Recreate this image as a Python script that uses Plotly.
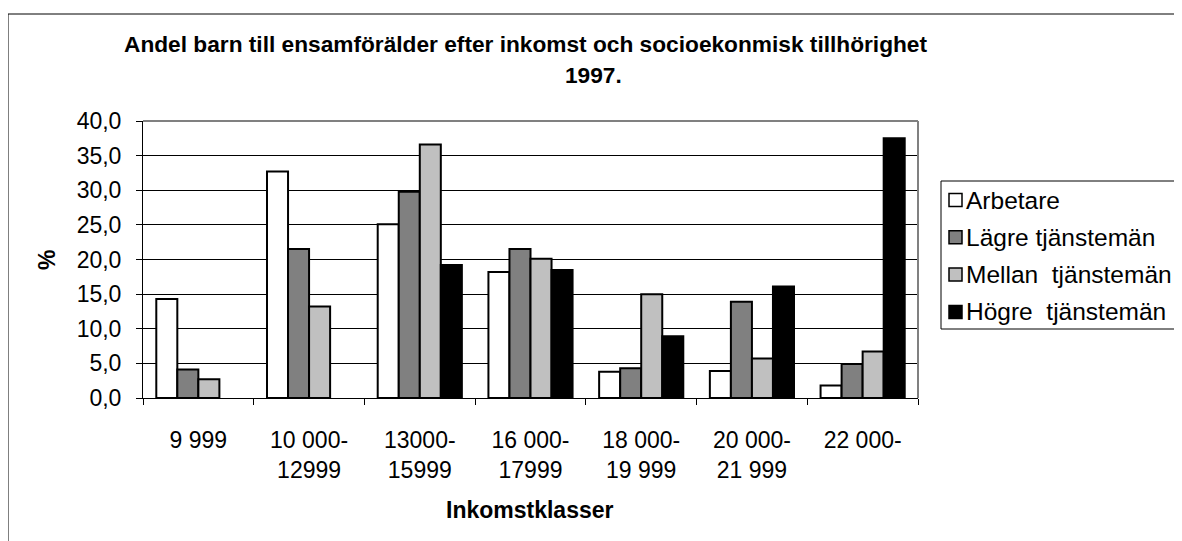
import plotly.graph_objects as go

categories = ["9 999", "10 000-<br>12999", "13000-<br>15999", "16 000-<br>17999",
              "18 000-<br>19 999", "20 000-<br>21 999", "22 000-"]
arbetare = [14.3, 32.7, 25.1, 18.2, 3.8, 3.9, 1.8]
lagre = [4.1, 21.5, 29.8, 21.5, 4.3, 13.9, 4.9]
mellan = [2.7, 13.2, 36.6, 20.1, 15.0, 5.7, 6.7]
hogre = [None, None, 19.2, 18.5, 8.9, 16.1, 37.5]
series_names = ["Arbetare", "Lägre tjänstemän", "Mellan \u00a0tjänstemän", "Högre \u00a0tjänstemän"]
series_values = [arbetare, lagre, mellan, hogre]
colors = ["#FFFFFF", "#808080", "#C0C0C0", "#000000"]
y_ticks = [0, 5, 10, 15, 20, 25, 30, 35, 40]

FONT = "Liberation Sans, Arial, sans-serif"
FS = 23
LEG_FS = 24.5
# page has an 8px body margin; screen-space plot area: x 143..918, y 121..398
OFF = 8
FW, FH = 1174, 533
SX0, SX1, SY0, SY1 = 143, 918, 121, 398
L, T = SX0 - OFF, SY0 - OFF
R, B = FW - (SX1 - OFF), FH - (SY1 - OFF)
pw, ph = SX1 - SX0, SY1 - SY0


def px(x):
    return (x - SX0) / pw


def py(y):
    return (SY1 - y) / ph


fig = go.Figure()
for i, (name, vals, col) in enumerate(zip(series_names, series_values, colors)):
    fig.add_trace(go.Bar(
        x=categories, y=vals, name=name, showlegend=False,
        marker=dict(color=col, line=dict(color="#000000", width=2)),
    ))

shapes = [
    dict(type="rect", xref="paper", yref="paper", x0=px(8), x1=px(1400),
         y0=py(800), y1=py(14), line=dict(color="black", width=1)),
    dict(type="line", xref="paper", yref="paper", x0=0, x1=1, y0=1, y1=1,
         line=dict(color="#808080", width=2)),
    dict(type="line", xref="paper", yref="paper", x0=1, x1=1, y0=0, y1=1,
         line=dict(color="#808080", width=2)),
    dict(type="rect", xref="paper", yref="paper", x0=px(941), x1=px(1400),
         y0=py(329), y1=py(181), line=dict(color="black", width=1)),
]
annotations = [
    dict(text="<b>Andel barn till ensamförälder efter inkomst och socioekonmisk tillhörighet</b>",
         xref="paper", yref="paper", x=px(525), y=py(44), xanchor="center",
         yanchor="middle", showarrow=False, font=dict(family=FONT, size=22.7)),
    dict(text="<b>1997.</b>", xref="paper", yref="paper", x=px(593), y=py(75),
         xanchor="center", yanchor="middle", showarrow=False,
         font=dict(family=FONT, size=22.7)),
    dict(text="<b>%</b>", xref="paper", yref="paper", x=px(47), y=py(260),
         xanchor="center", yanchor="middle", textangle=-90, showarrow=False,
         font=dict(family=FONT, size=FS)),
    dict(text="<b>Inkomstklasser</b>", xref="paper", yref="paper", x=px(530),
         y=py(510), xanchor="center", yanchor="middle", showarrow=False,
         font=dict(family=FONT, size=FS)),
]

# legend (drawn manually for exact placement)
row0, row_step = 200, 37.3
for i, (name, col) in enumerate(zip(series_names, colors)):
    cy = row0 + i * row_step
    shapes.append(dict(type="rect", xref="paper", yref="paper",
                       x0=px(949), x1=px(962), y0=py(cy + 6.5), y1=py(cy - 6.5),
                       fillcolor=col, line=dict(color="black", width=1.5)))
    annotations.append(dict(text=name, xref="paper", yref="paper", x=px(964),
                            y=py(cy), xanchor="left", yanchor="middle",
                            showarrow=False, font=dict(family=FONT, size=LEG_FS)))

fig.update_layout(
    width=FW, height=FH,
    margin=dict(l=L, r=R, t=T, b=B, pad=0),
    paper_bgcolor="white", plot_bgcolor="white",
    font=dict(family=FONT, size=FS, color="black"),
    separators=", ",
    barmode="group", bargap=0.24, bargroupgap=0,
    showlegend=False,
    xaxis=dict(type="category", tickson="boundaries", ticks="outside", ticklen=6,
               tickcolor="black", showline=True, linecolor="black", linewidth=1,
               showgrid=False, ticklabelstandoff=21,
               tickfont=dict(family=FONT, size=FS)),
    yaxis=dict(range=[0, 40], tickvals=y_ticks, tickformat=".1f", ticks="outside",
               ticklen=6, tickcolor="black", showline=True, linecolor="black",
               linewidth=1, showgrid=True, gridcolor="black", gridwidth=1,
               zeroline=False, ticklabelstandoff=10,
               tickfont=dict(family=FONT, size=FS)),
    shapes=shapes,
    annotations=annotations,
)

fig.write_html("out.html")
